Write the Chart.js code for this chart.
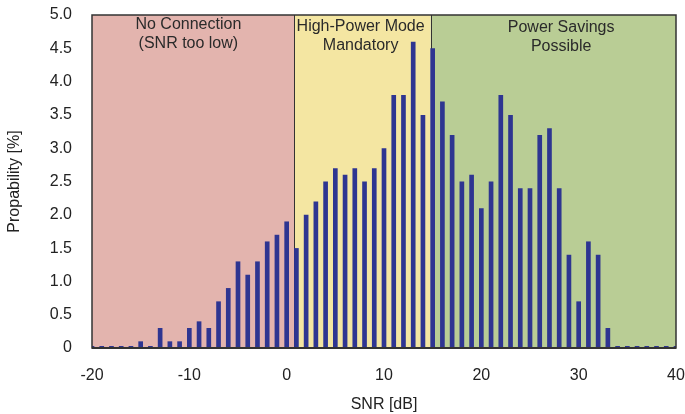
<!DOCTYPE html>
<html>
<head>
<meta charset="utf-8">
<script src="https://cdn.jsdelivr.net/npm/chart.js@4/dist/chart.umd.min.js"></script>
<style>
html,body{margin:0;padding:0;background:#fff;}
#wrap{width:685px;height:414px;}
</style>
</head>
<body>
<div id="wrap"><canvas id="c" width="685" height="414"></canvas></div>
<script>
// ---- data ----
const snrValues = [-20,-19,-18,-17,-16,-15,-14,-13,-12,-11,-10,-9,-8,-7,-6,-5,-4,-3,-2,-1,
  0,1,2,3,4,5,6,7,8,9,10,11,12,13,14,15,16,17,18,19,
  20,21,22,23,24,25,26,27,28,29,30,31,32,33,34,35,36,37,38,39,40];
const probability = [0.03,0.03,0.03,0.03,0.03,0.1,0.03,0.3,0.1,0.1,0.3,0.4,0.3,0.7,0.9,1.3,1.1,1.3,1.6,1.7,
  1.9,1.5,2.0,2.2,2.5,2.7,2.6,2.7,2.5,2.7,3.0,3.8,3.8,4.6,3.5,4.5,3.7,3.2,2.5,2.6,
  2.1,2.5,3.8,3.5,2.4,2.4,3.2,3.3,2.4,1.4,0.7,1.6,1.4,0.3,0.03,0.03,0.03,0.03,0.03,0.03,0.03];
const regionEdges = [-20, 0.8, 14.8, 40];
const regionLabels = [["No Connection","(SNR too low)"],["High-Power Mode","Mandatory"],["Power Savings","Possible"]];
const xTickLabels = [-20,-10,0,10,20,30,40];
const yTickLabels = ["0","0.5","1.0","1.5","2.0","2.5","3.0","3.5","4.0","4.5","5.0"];
const xTitle = "SNR [dB]";
const yTitle = "Propability [%]";

// ---- styling (not data) ----
const regionColors = ["#e3b4ae","#f4e6a2","#b9cd95"];
const labelAnchorX = [-10.1, 7.6, 28.2];
const labelLineY = [[25,44],[27,46],[28,47]];
const FONT = "'Liberation Sans', Arial, Helvetica, sans-serif";

const regionsPlugin = {
  id: 'regions',
  beforeDatasetsDraw(chart) {
    const {ctx, chartArea:a, scales:{x}} = chart;
    ctx.save();
    for (let i = 0; i < regionColors.length; i++) {
      const x0 = x.getPixelForValue(regionEdges[i]);
      const x1 = x.getPixelForValue(regionEdges[i+1]);
      ctx.fillStyle = regionColors[i];
      ctx.fillRect(x0, a.top, x1 - x0, a.bottom - a.top);
    }
    ctx.strokeStyle = '#333';
    ctx.lineWidth = 1;
    for (let i = 1; i < regionEdges.length - 1; i++) {
      const px = Math.round(x.getPixelForValue(regionEdges[i])) + 0.5;
      ctx.beginPath(); ctx.moveTo(px, a.top); ctx.lineTo(px, a.bottom); ctx.stroke();
    }
    ctx.restore();
  },
  afterDatasetsDraw(chart) {
    const {ctx, chartArea:a, scales:{x}} = chart;
    ctx.save();
    ctx.strokeStyle = '#333';
    ctx.lineWidth = 1.5;
    ctx.strokeRect(a.left, a.top, a.right - a.left, a.bottom - a.top);
    ctx.lineWidth = 2;
    ctx.beginPath(); ctx.moveTo(a.left, a.bottom); ctx.lineTo(a.right, a.bottom); ctx.stroke();
    ctx.fillStyle = '#2a2a2a';
    ctx.font = "16px " + FONT;
    ctx.textAlign = 'center';
    ctx.textBaseline = 'middle';
    for (let i = 0; i < regionLabels.length; i++) {
      const px = x.getPixelForValue(labelAnchorX[i]);
      regionLabels[i].forEach((t, j) => ctx.fillText(t, px, labelLineY[i][j]));
    }
    ctx.restore();
  }
};

const points = snrValues.map((v, i) => ({x: v, y: probability[i]}));

new Chart(document.getElementById('c'), {
  type: 'bar',
  data: {
    datasets: [{
      data: points,
      backgroundColor: '#2e3591',
      borderWidth: 0,
      barPercentage: 0.48,
      categoryPercentage: 1.0,
      clip: 0
    }]
  },
  options: {
    responsive: false,
    devicePixelRatio: 1,
    animation: false,
    layout: { padding: { left: 0, right: 9, top: 15, bottom: 0 } },
    plugins: { legend: { display: false }, tooltip: { enabled: false } },
    scales: {
      x: {
        type: 'linear',
        min: -20, max: 40,
        offset: false,
        afterFit(s) { s.height = 66; s.paddingLeft = 0; s.paddingRight = 0; },
        afterBuildTicks(s) { s.ticks = xTickLabels.map(v => ({value: v})); },
        grid: { display: false, drawTicks: false },
        border: { display: false },
        ticks: {
          font: { size: 16, family: FONT },
          color: '#222',
          padding: 18,
          maxRotation: 0,
          callback: v => String(v)
        },
        title: {
          display: true, text: xTitle,
          font: { size: 16, family: FONT },
          color: '#222',
          padding: { top: 0, bottom: 0 }
        }
      },
      y: {
        min: 0, max: 5,
        afterFit(s) { s.width = 92; s.paddingTop = 0; s.paddingBottom = 0; },
        afterBuildTicks(s) { s.ticks = yTickLabels.map(t => ({value: parseFloat(t)})); },
        grid: { display: false, drawTicks: false },
        border: { display: false },
        ticks: {
          font: { size: 16, family: FONT },
          color: '#222',
          padding: 20,
          callback: (v, i) => yTickLabels[i]
        },
        title: {
          display: true, text: yTitle,
          font: { size: 16, family: FONT },
          color: '#222',
          padding: { top: 5, bottom: 0 }
        }
      }
    }
  },
  plugins: [regionsPlugin]
});
</script>
</body>
</html>
